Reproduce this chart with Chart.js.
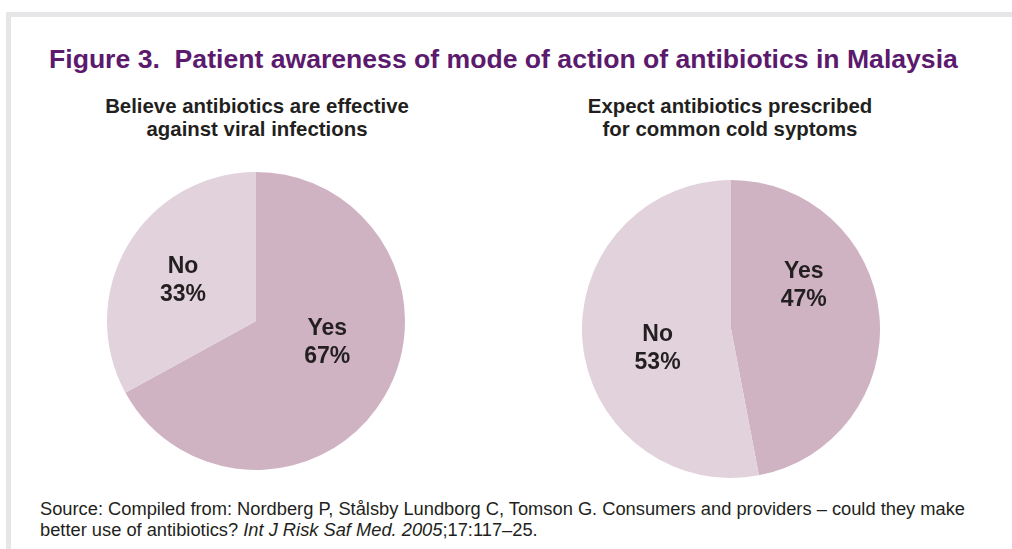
<!DOCTYPE html>
<html>
<head>
<meta charset="utf-8">
<script src="https://cdn.jsdelivr.net/npm/chart.js@4.4.1/dist/chart.umd.min.js"></script>
<style>
  html, body { margin: 0; padding: 0; background: #fff; }
  body { width: 1012px; height: 549px; position: relative; overflow: hidden;
         font-family: "Liberation Sans", Arial, sans-serif; color: #231f20; }
  .frame { position: absolute; left: 6px; top: 12px; right: -10px; bottom: -10px;
           border-top: 5px solid #e6e6e8; border-left: 5px solid #e6e6e8; }
  .title { position: absolute; left: 49px; top: 44px; font-size: 26.6px; font-weight: bold;
           color: #5c1a6e; white-space: pre; line-height: 30px; }
  .sub { position: absolute; width: 440px; text-align: center; font-size: 20.4px;
         font-weight: bold; line-height: 23px; }
  .src { position: absolute; left: 40px; top: 498px; font-size: 18.3px; line-height: 21px;
         white-space: pre; }
  canvas { position: absolute; }
</style>
</head>
<body>
<div class="frame"></div>
<div class="title">Figure 3.  Patient awareness of mode of action of antibiotics in Malaysia</div>
<div class="sub" style="left:37px; top:95px;">Believe antibiotics are effective<br>against viral infections</div>
<div class="sub" style="left:510px; top:95px;">Expect antibiotics prescribed<br>for common cold syptoms</div>
<div class="src">Source: Compiled from: Nordberg P, Stålsby Lundborg C, Tomson G. Consumers and providers – could they make<br>better use of antibiotics? <i>Int J Risk Saf Med. 2005</i>;17:117–25.</div>

<div id="w1" style="position:absolute; left:107px; top:172px; width:298px; height:298px;"><canvas id="pie1"></canvas></div>
<div id="w2" style="position:absolute; left:582px; top:180px; width:298px; height:298px;"><canvas id="pie2"></canvas></div>

<script>
const categories = ['Yes', 'No'];
const viralValues = [67, 33];
const coldValues = [47, 53];
const sliceColors = ['#cfb3c3', '#e2d2dc'];

// draws "Yes / 67%" style labels inside the slices
const sliceLabels = {
    id: 'sliceLabels',
    afterDatasetsDraw(chart, args, opts) {
        const ctx = chart.ctx;
        const meta = chart.getDatasetMeta(0);
        const data = chart.data.datasets[0].data;
        ctx.save();
        ctx.font = 'bold 23px "Liberation Sans", Arial, sans-serif';
        ctx.fillStyle = '#231f20';
        ctx.textAlign = 'center';
        ctx.textBaseline = 'middle';
        meta.data.forEach((arc, i) => {
            const p = opts.pos[i];
            const a = (p.angle - 90) * Math.PI / 180;
            const r = arc.outerRadius * p.frac;
            const x = arc.x + Math.cos(a) * r;
            const y = arc.y + Math.sin(a) * r;
            ctx.fillText(chart.data.labels[i], x, y - 14);
            ctx.fillText(data[i] + '%', x, y + 14);
        });
        ctx.restore();
    }
};

function makePie(id, values, pos) {
    return new Chart(document.getElementById(id), {
        type: 'pie',
        data: {
            labels: categories,
            datasets: [{
                data: values,
                backgroundColor: sliceColors,
                borderWidth: 0
            }]
        },
        options: {
            animation: false,
            responsive: true,
            maintainAspectRatio: false,
            layout: { padding: 0 },
            plugins: {
                legend: { display: false },
                tooltip: { enabled: false },
                sliceLabels: { pos: pos }
            }
        },
        plugins: [sliceLabels]
    });
}

makePie('pie1', viralValues, [{ angle: 107, frac: 0.5 }, { angle: 299, frac: 0.56 }]);
makePie('pie2', coldValues, [{ angle: 59, frac: 0.57 }, { angle: 255, frac: 0.51 }]);
</script>
</body>
</html>
